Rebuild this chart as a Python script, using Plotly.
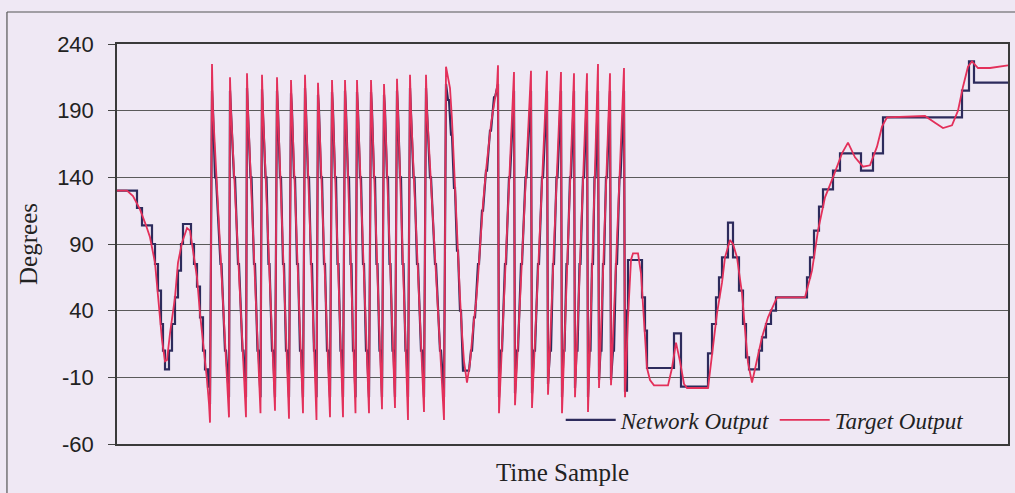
import plotly.graph_objects as go

# ---- data (time sample index, degrees) ----
target_t = [
    0, 10, 16, 23, 29, 33, 38, 41, 45, 48, 50, 53, 58, 61, 65, 70, 73, 76, 80, 83, 86, 90, 92, 93,
    95, 96, 112, 113, 114, 129, 130, 131, 143.5, 145, 146, 158, 160, 161, 172, 174, 175, 186,
    188, 189, 199.5, 201, 202, 213, 215, 216, 226, 228, 229, 238.5, 240, 241, 252, 254, 255, 265,
    267, 268, 278, 280, 281, 291, 293, 294, 307, 309, 310, 327,
    329, 333, 335, 338, 341, 343, 345, 347, 350, 353, 356, 359, 361, 364, 366, 369, 371, 374, 376, 380, 381,
    382, 397, 398, 414, 415, 430, 431, 444, 445, 457, 458, 470, 471, 481, 482, 493, 494, 507, 508,
    511, 514, 516, 521, 524, 526, 528, 530, 533, 537, 551, 555, 559, 563, 567, 570, 591, 595, 600,
    605, 608, 613, 616, 620, 625, 628, 631, 635, 640, 645, 651, 660, 688, 695, 701, 708, 716, 725,
    731, 738, 746, 753, 760, 765, 770, 808, 818, 826, 835, 841, 846, 851, 855, 861, 873, 885, 891,
]
target_deg = [
    130, 130, 126, 116, 104, 95, 76, 50, 18, 2, 3, 23, 50, 76, 91, 102, 100, 85, 65, 38, 18, -12, -30, -44,
    225, 190, -40, 215, 190, -40, 218, 190, -37, 217, 190, -35, 215, 190, -41, 213, 190, -37,
    217, 190, -42, 211, 190, -40, 213, 190, -40, 213, 190, -37, 213, 190, -37, 213, 190, -34,
    210, 190, -33, 214, 190, -42, 217, 190, -36, 217, 190, -42,
    223, 207, 183, 130, 76, 50, 23, 2, -14, 1, 26, 46, 65, 100, 120, 145, 160, 180, 190, 208, 224,
    -37, 219, -31, 220, -33, 220, -23, 219, -37, 218, -25, 218, -36, 225, -18, 218, -16, 222, -25,
    35, 78, 83, 83, 68, 45, 15, -3, -12, -16, -16, -3, 16, 2, -15, -18, -18, 5, 38,
    61, 80, 93, 90, 80, 53, 26, 1, -14, 3, 20, 35, 50, 50, 70, 100, 125, 140, 158,
    166, 155, 148, 149, 163, 178, 185, 186, 181, 177, 179, 190, 208, 223, 227, 222, 222, 223, 224,
]

network_t = [
    0, 20, 20, 25, 25, 35, 35, 38, 38, 41, 41, 44, 44, 46, 46, 48, 48, 52, 52, 55, 55, 58, 58,
    61, 61, 64, 64, 66, 66, 74, 74, 77, 77, 80, 80, 83, 83, 86, 86, 88, 88, 91, 91, 93, 93,
    95, 96, 98, 99, 103.5, 104.5, 108, 109, 112,
    113, 114, 117, 118, 121, 122, 125.5, 126.5, 129,
    130, 131, 133.5, 134.5, 137, 138, 140.5, 141.5, 143.5,
    145, 146, 148.5, 149.5, 151.5, 152.5, 155, 156, 158,
    160, 161, 163, 164, 166, 167, 169, 170, 172,
    174, 175, 177, 178, 180, 181, 183, 184, 186,
    188, 189, 191, 192, 194, 195, 197, 198, 199.5,
    201, 202, 204, 205, 207, 208, 210, 211, 213,
    215, 216, 218, 219, 220.5, 221.5, 223.5, 224.5, 226,
    228, 229, 231, 232, 233.5, 234.5, 236, 237, 238.5,
    240, 241, 243, 244, 246, 247, 249, 250, 252,
    254, 255, 257, 258, 259.5, 260.5, 262.5, 263.5, 265,
    267, 268, 270, 271, 272.5, 273.5, 275.5, 276.5, 278,
    280, 281, 283, 284, 285.5, 286.5, 288.5, 289.5, 291,
    293, 294, 296.5, 297.5, 300, 301, 304, 305, 307,
    309, 310, 313, 314, 318, 319, 323, 324, 327,
    329, 331, 332, 334, 335, 337, 338, 340, 341, 343, 344, 346, 352, 354, 355, 357, 358,
    361, 362, 365, 366, 369, 370, 373, 374, 377, 378, 381,
    382, 384, 385, 388, 389, 392, 393, 396, 397,
    398, 400, 401, 404, 405, 408.5, 409.5, 412.5, 414,
    415, 417, 418, 421, 422, 425, 426, 429, 430,
    431, 433, 434, 436, 437, 439.5, 440.5, 443, 444,
    445, 446.5, 447.5, 449.5, 450.5, 453, 454, 456, 457,
    458, 459.5, 460.5, 462.5, 463.5, 466, 467, 469, 470,
    471, 472.5, 473.5, 475, 476, 477.5, 478.5, 480, 481,
    482, 483.5, 484.5, 486, 487, 489, 490, 492, 493,
    494, 496, 497, 499, 500, 502.5, 503.5, 506, 507,
    508, 510, 510, 511, 511, 525, 525, 528, 528, 530, 530, 557, 557, 564, 564, 591, 591,
    595, 595, 599, 599, 602, 602, 605, 605, 611, 611, 616, 616, 622, 622, 626, 626, 629, 629,
    632, 632, 642, 642, 645, 645, 649, 649, 654, 654, 659, 659, 690, 690, 693, 693, 697, 697,
    702, 702, 706, 706, 716, 716, 723, 723, 744, 744, 756, 756, 766, 766, 845, 845, 852, 852,
    857, 857, 891,
]
network_deg = [
    130, 130, 117, 117, 104, 104, 90, 90, 75, 75, 55, 55, 30, 30, 10, 10, -4, -4, 10, 10, 30, 30, 50,
    50, 70, 70, 90, 90, 105, 105, 90, 90, 75, 75, 58, 58, 35, 35, 10, 10, -4, -4, -17, -17, -30,
    205, 190, 140, 140, 75, 75, 10, 10, -25,
    205, 190, 140, 140, 75, 75, 10, 10, -25,
    207, 190, 140, 140, 75, 75, 10, 10, -25,
    206, 190, 140, 140, 75, 75, 10, 10, -25,
    205, 190, 140, 140, 75, 75, 10, 10, -25,
    203, 190, 140, 140, 75, 75, 10, 10, -25,
    207, 190, 140, 140, 75, 75, 10, 10, -25,
    202, 190, 140, 140, 75, 75, 10, 10, -25,
    204, 190, 140, 140, 75, 75, 10, 10, -25,
    205, 190, 140, 140, 75, 75, 10, 10, -25,
    204, 190, 140, 140, 75, 75, 10, 10, -25,
    204, 190, 140, 140, 75, 75, 10, 10, -25,
    202, 190, 140, 140, 75, 75, 10, 10, -25,
    205, 190, 140, 140, 75, 75, 10, 10, -25,
    207, 190, 140, 140, 75, 75, 10, 10, -25,
    207, 190, 140, 140, 75, 75, 10, 10, -25,
    210, 198, 198, 172, 172, 132, 132, 85, 85, 40, 40, -5, -5, 10, 10, 35, 35,
    75, 75, 115, 115, 145, 145, 175, 175, 200, 200, 210,
    -25, 10, 10, 75, 75, 140, 140, 190, 205,
    -22, 10, 10, 75, 75, 140, 140, 190, 205,
    -22, 10, 10, 75, 75, 140, 140, 190, 205,
    -15, 10, 10, 75, 75, 140, 140, 190, 205,
    -25, 10, 10, 75, 75, 140, 140, 190, 205,
    -18, 10, 10, 75, 75, 140, 140, 190, 205,
    -25, 10, 10, 75, 75, 140, 140, 190, 205,
    -12, 10, 10, 75, 75, 140, 140, 190, 205,
    -12, 10, 10, 75, 75, 140, 140, 190, 205,
    -20, -20, 40, 40, 78, 78, 50, 50, 25, 25, -3, -3, 23, 23, -17, -17, 8,
    8, 30, 30, 50, 50, 65, 65, 80, 80, 106, 106, 80, 80, 55, 55, 30, 30, 5,
    5, -4, -4, 10, 10, 20, 20, 30, 30, 40, 40, 50, 50, 65, 65, 80, 80, 100,
    100, 118, 118, 131, 131, 145, 145, 158, 158, 145, 145, 158, 158, 185, 185, 205, 205, 227,
    227, 211, 211,
]

y_ticks = [-60, -10, 40, 90, 140, 190, 240]
y_tick_labels = ["-60", "-10", "40", "90", "140", "190", "240"]

BG = "#EFE8F4"

fig = go.Figure()
fig.add_trace(go.Scatter(
    x=network_t, y=network_deg, mode="lines", name="Network Output",
    line=dict(color="#2D2B5C", width=2.2),
))
fig.add_trace(go.Scatter(
    x=target_t, y=target_deg, mode="lines", name="Target Output",
    line=dict(color="#E3305A", width=1.8),
))

fig.update_layout(
    width=1015, height=493,
    margin=dict(l=117, r=7, t=44, b=49, autoexpand=False),
    paper_bgcolor=BG, plot_bgcolor=BG,
    showlegend=True,
    legend=dict(
        orientation="h", x=0.498, xanchor="left", y=0.06, yanchor="middle",
        bgcolor="rgba(0,0,0,0)", borderwidth=0, itemwidth=50, entrywidth=149,
        font=dict(family="Liberation Serif", size=23, color="#222", style="italic"),
    ),
    xaxis=dict(
        range=[0, 891], showticklabels=False, ticks="", showgrid=False, zeroline=False,
        showline=True, linecolor="#3a3a3a", linewidth=1.5, mirror=True, automargin=False,
        title=dict(text="Time Sample", standoff=19,
                   font=dict(family="Liberation Serif", size=25, color="#222")),
    ),
    yaxis=dict(
        range=[-60, 240], tickvals=y_ticks, ticktext=y_tick_labels,
        ticks="outside", ticklen=7, tickcolor="#444",
        ticklabelstandoff=10, automargin=False,
        showgrid=True, gridcolor="#5a5a5a", gridwidth=1, zeroline=False,
        showline=True, linecolor="#3a3a3a", linewidth=1.5, mirror=True,
        tickfont=dict(family="Liberation Sans", size=22, color="#222"),
        title=dict(text="Degrees", standoff=12,
                   font=dict(family="Liberation Serif", size=25, color="#222")),
    ),
    shapes=[
        dict(type="line", xref="paper", yref="paper", x0=-0.1235, x1=1.01, y0=1.08, y1=1.08,
             line=dict(color="#555", width=1.2)),
        dict(type="line", xref="paper", yref="paper", x0=-0.1235, x1=-0.1235, y0=1.08, y1=-0.13,
             line=dict(color="#555", width=1.2)),
    ],
)

fig.write_html(
    "out.html",
    config={"displayModeBar": False},
    post_script="document.body.style.margin='0px';",
)
